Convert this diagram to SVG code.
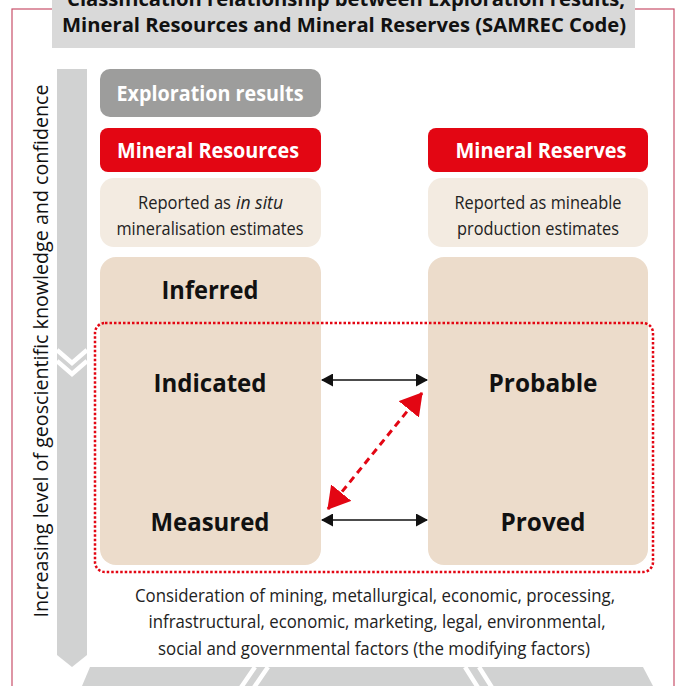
<svg xmlns="http://www.w3.org/2000/svg" width="677" height="686" viewBox="0 0 677 686">
  <defs>
    <style>
      .frame { fill: none; stroke: #c8506a; stroke-width: 1.2; }
      .title { font-family: "Open Sans", "Liberation Sans", sans-serif; font-weight: 700; font-size: 20px; fill: #111; text-anchor: middle; }
      .head { font-family: "Open Sans", "Liberation Sans", sans-serif; font-weight: 700; font-size: 21px; fill: #fff; text-anchor: middle; }
      .note { font-family: "Open Sans", "Liberation Sans", sans-serif; font-size: 18px; fill: #222; text-anchor: middle; }
      .start { text-anchor: start; }
      .cat { font-family: "Open Sans", "Liberation Sans", sans-serif; font-weight: 700; font-size: 25px; fill: #111; text-anchor: middle; }
      .side { font-family: "Open Sans", "Liberation Sans", sans-serif; font-size: 20px; fill: #111; text-anchor: middle; }
      .grey { fill: #9d9d9c; }
      .red { fill: #e30613; }
      .pale { fill: #f3ebe1; }
      .tan { fill: #ecdccb; }
      .bar { fill: #d1d2d2; }
      .chev { fill: none; stroke: #fff; stroke-width: 4.5; }
      .link { stroke: #111; stroke-width: 1.5; fill: none; }
      .dash { stroke: #e30613; stroke-width: 3; stroke-dasharray: 7 5; fill: none; }
    </style>
    <marker id="blackHead" viewBox="0 0 12 13" refX="11" refY="6.5" markerWidth="12" markerHeight="13" markerUnits="userSpaceOnUse" orient="auto-start-reverse">
      <path d="M0,0 L12,6.5 L0,13 z" fill="#111"/>
    </marker>
    <marker id="redHead" viewBox="0 0 22 26" refX="21" refY="13" markerWidth="22" markerHeight="26" markerUnits="userSpaceOnUse" orient="auto-start-reverse">
      <path d="M0,0 L22,13 L0,26 z" fill="#e30613"/>
    </marker>
  </defs>

  <!-- outer frame -->
  <rect class="frame" x="12" y="9" width="662" height="700"/>

  <!-- title -->
  <g id="title">
    <rect x="52" y="-2" width="583" height="50" fill="#d9d9d9"/>
    <text class="title" x="346" y="6" textLength="558" lengthAdjust="spacingAndGlyphs">Classification relationship between Exploration results,</text>
    <text class="title" x="344" y="32" textLength="564" lengthAdjust="spacingAndGlyphs">Mineral Resources and Mineral Reserves (SAMREC Code)</text>
  </g>

  <!-- vertical confidence arrow -->
  <g id="confidence-axis">
    <polygon class="bar" points="57,69 87,69 87,655 72,667 57,655"/>
    <polyline class="chev" points="57,350 72,363 87,350"/>
    <polyline class="chev" points="57,361 72,374 87,361"/>
    <text class="side" transform="translate(48,351) rotate(-90)" textLength="533" lengthAdjust="spacingAndGlyphs">Increasing level of geoscientific knowledge and confidence</text>
  </g>

  <!-- horizontal modifying-factors arrow -->
  <g id="factors-axis">
    <polygon class="bar" points="90,667 643,667 653,686 643,705 90,705 82,686"/>
    <polyline class="chev" points="255,667 242,686 255,705"/>
    <polyline class="chev" points="268,667 255,686 268,705"/>
    <polyline class="chev" points="465,667 477,686 465,705"/>
    <polyline class="chev" points="479,667 491,686 479,705"/>
  </g>

  <g id="exploration-results">
    <rect class="grey" x="100" y="69" width="221" height="48" rx="10"/>
    <text class="head" x="210" y="101" textLength="187" lengthAdjust="spacingAndGlyphs">Exploration results</text>
  </g>

  <g id="mineral-resources">
    <rect class="red" x="100" y="128" width="221" height="44" rx="8"/>
    <text class="head" x="208" y="158" textLength="182" lengthAdjust="spacingAndGlyphs">Mineral Resources</text>
  </g>

  <g id="mineral-reserves">
    <rect class="red" x="428" y="128" width="220" height="44" rx="8"/>
    <text class="head" x="541" y="158" textLength="171" lengthAdjust="spacingAndGlyphs">Mineral Reserves</text>
  </g>

  <g id="resources-note">
    <rect class="pale" x="100" y="178" width="221" height="69" rx="14"/>
    <text class="note start" x="138" y="209" textLength="93" lengthAdjust="spacingAndGlyphs">Reported as</text>
    <text class="note start" x="236" y="209" font-style="italic" textLength="47" lengthAdjust="spacingAndGlyphs">in situ</text>
    <text class="note" x="210" y="235" textLength="187" lengthAdjust="spacingAndGlyphs">mineralisation estimates</text>
  </g>

  <g id="reserves-note">
    <rect class="pale" x="428" y="178" width="220" height="69" rx="14"/>
    <text class="note" x="538" y="209" textLength="167" lengthAdjust="spacingAndGlyphs">Reported as mineable</text>
    <text class="note" x="538" y="235" textLength="162" lengthAdjust="spacingAndGlyphs">production estimates</text>
  </g>

  <g id="resource-categories">
    <rect class="tan" x="100" y="257" width="221" height="308" rx="16"/>
    <text class="cat" x="210" y="299" textLength="97" lengthAdjust="spacingAndGlyphs">Inferred</text>
    <text class="cat" x="210" y="392" textLength="113" lengthAdjust="spacingAndGlyphs">Indicated</text>
    <text class="cat" x="210" y="531" textLength="119" lengthAdjust="spacingAndGlyphs">Measured</text>
  </g>

  <g id="reserve-categories">
    <rect class="tan" x="428" y="257" width="220" height="308" rx="16"/>
    <text class="cat" x="543" y="392" textLength="109" lengthAdjust="spacingAndGlyphs">Probable</text>
    <text class="cat" x="543" y="531" textLength="85" lengthAdjust="spacingAndGlyphs">Proved</text>
  </g>

  <!-- dotted outline around the convertible categories -->
  <rect id="conversion-zone" x="95" y="323" width="558" height="249" rx="10" fill="none" stroke="#e30613" stroke-width="2.5" stroke-dasharray="2.5 2"/>

  <g id="connectors">
    <line class="link" x1="322" y1="380" x2="427" y2="380" marker-start="url(#blackHead)" marker-end="url(#blackHead)"/>
    <line class="link" x1="322" y1="520" x2="427" y2="520" marker-start="url(#blackHead)" marker-end="url(#blackHead)"/>
    <line class="dash" x1="422" y1="393" x2="328" y2="509" marker-start="url(#redHead)" marker-end="url(#redHead)"/>
  </g>

  <g id="modifying-factors">
    <text class="note" x="375" y="602" textLength="480" lengthAdjust="spacingAndGlyphs">Consideration of mining, metallurgical, economic, processing,</text>
    <text class="note" x="377" y="628" textLength="457" lengthAdjust="spacingAndGlyphs">infrastructural, economic, marketing, legal, environmental,</text>
    <text class="note" x="374" y="655" textLength="432" lengthAdjust="spacingAndGlyphs">social and governmental factors (the modifying factors)</text>
  </g>
</svg>
